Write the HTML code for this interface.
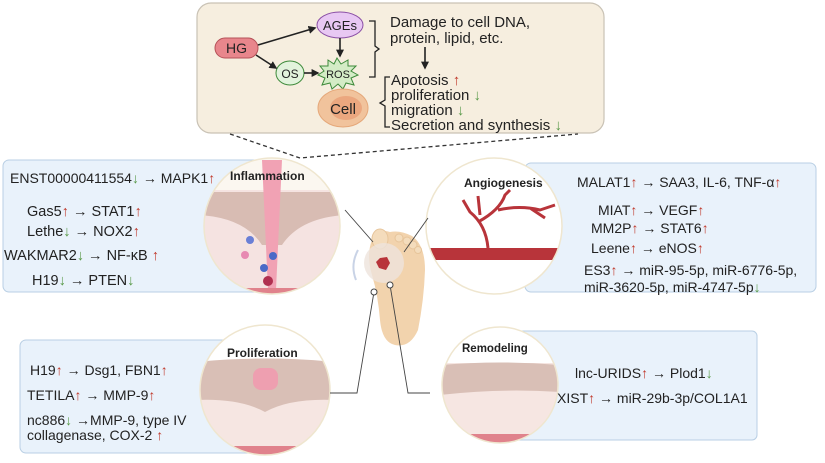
<!DOCTYPE html>
<html><head><meta charset="utf-8"><style>
html,body{margin:0;padding:0;background:#fff;}
svg text{font-family:"Liberation Sans",sans-serif;}
</style></head><body>
<svg width="825" height="458" viewBox="0 0 825 458" xmlns="http://www.w3.org/2000/svg">
<defs>
<marker id="a" viewBox="0 0 10 10" refX="8" refY="5" markerWidth="5" markerHeight="5" orient="auto"><path d="M0,0L10,5L0,10z" fill="#222"/></marker>
<clipPath id="c1"><circle cx="272" cy="226" r="68"/></clipPath>
<clipPath id="c2"><circle cx="494" cy="226" r="68"/></clipPath>
<clipPath id="c3"><circle cx="265" cy="390" r="65"/></clipPath>
<clipPath id="c4"><circle cx="500" cy="385" r="58"/></clipPath>
</defs>
<!-- top box -->
<rect x="197" y="3" width="407" height="130" rx="14" fill="#f6eedf" stroke="#c9c2b5" stroke-width="1.2"/>
<rect x="215" y="38" width="43" height="20" rx="10" fill="#e8868c" stroke="#b55158"/>
<text x="236.5" y="53" font-size="14" text-anchor="middle" fill="#222">HG</text>
<ellipse cx="340" cy="25" rx="23" ry="13" fill="#e8c8f3" stroke="#8a4fa5"/>
<text x="340" y="30" font-size="13" text-anchor="middle" fill="#222">AGEs</text>
<ellipse cx="290" cy="73" rx="14" ry="12" fill="#e2f3dc" stroke="#3d8a3a"/>
<text x="290" y="78" font-size="12" text-anchor="middle" fill="#222">OS</text>
<polygon points="337,58 341,64 348,60 348,66 356,66 351,71 358,75 351,78 354,85 346,83 343,89 338,84 332,89 330,83 322,85 325,78 318,75 324,71 320,66 328,66 328,60 334,64" fill="#d4ecc6" stroke="#3d8a3a"/>
<text x="338" y="78" font-size="11" text-anchor="middle" fill="#222">ROS</text>
<line x1="258" y1="45" x2="315" y2="28" stroke="#222" stroke-width="1.6" marker-end="url(#a)"/>
<line x1="256" y1="55" x2="276" y2="68" stroke="#222" stroke-width="1.6" marker-end="url(#a)"/>
<line x1="304" y1="73" x2="318" y2="73" stroke="#222" stroke-width="1.6" marker-end="url(#a)"/>
<line x1="340" y1="38" x2="340" y2="56" stroke="#222" stroke-width="1.6" marker-end="url(#a)"/>
<ellipse cx="343" cy="108" rx="25" ry="19" fill="#f1c39c" stroke="#e5a87a"/>
<ellipse cx="346" cy="108" rx="16" ry="12" fill="#eba77f"/>
<text x="343" y="114" font-size="15" text-anchor="middle" fill="#222">Cell</text>
<path d="M369,21 L375,21 L375,46 L379,49 L375,52 L375,77 L369,77" fill="none" stroke="#222" stroke-width="1.3"/>
<text x="390" y="27" font-size="15" fill="#222">Damage to cell DNA,</text>
<text x="390" y="43" font-size="15" fill="#222">protein, lipid, etc.</text>
<line x1="425" y1="47" x2="425" y2="68" stroke="#222" stroke-width="1.6" marker-end="url(#a)"/>
<path d="M390,77 L385,77 L385,100 L380,103 L385,106 L385,127 L390,127" fill="none" stroke="#222" stroke-width="1.3"/>
<text x="391" y="85" font-size="15" fill="#222">Apotosis <tspan fill="#c0392b">↑</tspan></text>
<text x="391" y="100" font-size="15" fill="#222">proliferation <tspan fill="#5a9a4a">↓</tspan></text>
<text x="391" y="115" font-size="15" fill="#222">migration <tspan fill="#5a9a4a">↓</tspan></text>
<text x="391" y="130" font-size="15" fill="#222">Secretion and synthesis <tspan fill="#5a9a4a">↓</tspan></text>
<path d="M230,134 L300,158 L578,134" fill="none" stroke="#333" stroke-width="1.3" stroke-dasharray="4,3"/>

<!-- inflammation -->
<rect x="3" y="160" width="270" height="132" rx="6" fill="#e9f2fb" stroke="#b9cfe4"/>
<text x="10" y="183" font-size="14" fill="#222">ENST00000411554<tspan fill="#5a9a4a">↓</tspan> → MAPK1<tspan fill="#c0392b">↑</tspan></text>
<text x="27" y="216" font-size="14.5" fill="#222">Gas5<tspan fill="#c0392b">↑</tspan> → STAT1<tspan fill="#c0392b">↑</tspan></text>
<text x="27" y="236" font-size="14.5" fill="#222">Lethe<tspan fill="#5a9a4a">↓</tspan> → NOX2<tspan fill="#c0392b">↑</tspan></text>
<text x="4" y="260" font-size="14.5" fill="#222">WAKMAR2<tspan fill="#5a9a4a">↓</tspan> → NF-κB <tspan fill="#c0392b">↑</tspan></text>
<text x="32" y="285" font-size="14.5" fill="#222">H19<tspan fill="#5a9a4a">↓</tspan> → PTEN<tspan fill="#5a9a4a">↓</tspan></text>
<g clip-path="url(#c1)">
<rect x="200" y="155" width="150" height="145" fill="#f5e3e1"/>
<rect x="200" y="155" width="150" height="35" fill="#fbf7f0"/>
<path d="M200,192 Q272,192 345,192 L345,215 Q300,218 282,245 L262,245 Q245,218 200,215z" fill="#d8bcb3"/>
<path d="M262,160 L282,160 L276,290 L268,290z" fill="#f1a2b4"/>
<circle cx="250" cy="240" r="4" fill="#6a7fd6"/><circle cx="245" cy="255" r="4" fill="#e78ab2"/>
<circle cx="273" cy="256" r="4" fill="#4a6ac7"/><circle cx="264" cy="268" r="4" fill="#4a6ac7"/><circle cx="268" cy="281" r="5" fill="#b03050"/>
<rect x="240" y="288" width="60" height="8" fill="#e0828c"/>
</g>
<circle cx="272" cy="226" r="68" fill="none" stroke="#efe6cf" stroke-width="1.5"/>
<text x="230" y="180" font-size="12" font-weight="bold" fill="#222">Inflammation</text>

<!-- angiogenesis -->
<rect x="525" y="163" width="291" height="129" rx="6" fill="#e9f2fb" stroke="#b9cfe4"/>
<g clip-path="url(#c2)">
<rect x="420" y="155" width="150" height="145" fill="#fff"/>
<rect x="420" y="248" width="150" height="12" fill="#b8343a"/>
<path d="M488,248 Q486,225 470,212 L463,200 M478,222 Q500,210 505,195 L510,190 M498,210 Q520,205 540,210 L555,205 M530,208 L545,218 M480,215 L478,196" stroke="#b8343a" stroke-width="3" fill="none"/>
</g>
<circle cx="494" cy="226" r="68" fill="none" stroke="#efe6cf" stroke-width="1.5"/>
<text x="464" y="187" font-size="12" font-weight="bold" fill="#222">Angiogenesis</text>
<text x="577" y="187" font-size="14" fill="#222">MALAT1<tspan fill="#c0392b">↑</tspan> → SAA3, IL-6, TNF-α<tspan fill="#c0392b">↑</tspan></text>
<text x="598" y="215" font-size="14" fill="#222">MIAT<tspan fill="#c0392b">↑</tspan> → VEGF<tspan fill="#c0392b">↑</tspan></text>
<text x="591" y="233" font-size="14" fill="#222">MM2P<tspan fill="#c0392b">↑</tspan> → STAT6<tspan fill="#c0392b">↑</tspan></text>
<text x="591" y="253" font-size="14" fill="#222">Leene<tspan fill="#c0392b">↑</tspan> → eNOS<tspan fill="#c0392b">↑</tspan></text>
<text x="584" y="275" font-size="14" fill="#222">ES3<tspan fill="#c0392b">↑</tspan> → miR-95-5p, miR-6776-5p,</text>
<text x="584" y="292" font-size="14" fill="#222">miR-3620-5p, miR-4747-5p<tspan fill="#5a9a4a">↓</tspan></text>

<!-- proliferation -->
<rect x="20" y="340" width="250" height="113" rx="6" fill="#e9f2fb" stroke="#b9cfe4"/>
<g clip-path="url(#c3)">
<rect x="195" y="320" width="140" height="140" fill="#f6e6e2"/>
<rect x="195" y="320" width="140" height="42" fill="#fff"/>
<path d="M195,362 Q265,355 335,362 L335,400 Q290,398 265,412 Q240,398 195,400z" fill="#d9bfb6"/>
<rect x="253" y="368" width="25" height="22" rx="8" fill="#ee9fb0"/>
<rect x="230" y="446" width="70" height="10" fill="#e0828c"/>
</g>
<circle cx="265" cy="390" r="65" fill="none" stroke="#efe6cf" stroke-width="1.5"/>
<text x="227" y="357" font-size="12" font-weight="bold" fill="#222">Proliferation</text>
<text x="30" y="375" font-size="14" fill="#222">H19<tspan fill="#c0392b">↑</tspan> → Dsg1, FBN1<tspan fill="#c0392b">↑</tspan></text>
<text x="27" y="400" font-size="14" fill="#222">TETILA<tspan fill="#c0392b">↑</tspan> → MMP-9<tspan fill="#c0392b">↑</tspan></text>
<text x="27" y="425" font-size="14" fill="#222">nc886<tspan fill="#5a9a4a">↓</tspan> →MMP-9, type IV</text>
<text x="27" y="440" font-size="14" fill="#222">collagenase,  COX-2 <tspan fill="#c0392b">↑</tspan></text>

<!-- remodeling -->
<rect x="500" y="331" width="257" height="109" rx="5" fill="#e9f2fb" stroke="#b9cfe4"/>
<g clip-path="url(#c4)">
<rect x="440" y="325" width="120" height="120" fill="#f6e6e2"/>
<rect x="440" y="325" width="120" height="38" fill="#fff"/>
<path d="M440,365 Q500,360 560,365 L560,392 Q500,388 440,395z" fill="#d9bfb6"/>
<rect x="470" y="434" width="60" height="10" fill="#e0828c"/>
</g>
<circle cx="500" cy="385" r="58" fill="none" stroke="#efe6cf" stroke-width="1.5"/>
<text x="462" y="352" font-size="11.5" font-weight="bold" fill="#222">Remodeling</text>
<text x="575" y="378" font-size="14" fill="#222">lnc-URIDS<tspan fill="#c0392b">↑</tspan> → Plod1<tspan fill="#5a9a4a">↓</tspan></text>
<text x="557" y="403" font-size="14" fill="#222">XIST<tspan fill="#c0392b">↑</tspan> → miR-29b-3p/COL1A1</text>

<!-- foot -->
<path d="M372,240 Q378,228 390,232 Q400,230 412,236 Q425,245 425,270 Q424,300 418,330 Q410,348 395,345 Q382,342 380,320 Q378,295 372,275 Q366,255 372,240z" fill="#f2d3ad"/>
<ellipse cx="380" cy="239" rx="8" ry="10" fill="#f4dcbc" stroke="#e7c59b"/>
<circle cx="399" cy="238" r="4" fill="#f4dcbc" stroke="#e7c59b"/>
<circle cx="407" cy="241" r="4" fill="#f4dcbc" stroke="#e7c59b"/>
<circle cx="413" cy="245" r="4" fill="#f4dcbc" stroke="#e7c59b"/>
<circle cx="418" cy="250" r="3.5" fill="#f4dcbc" stroke="#e7c59b"/>
<circle cx="384" cy="263" r="20" fill="#eee4dc" opacity="0.8"/>
<polygon points="380,258 387,257 390,263 386,270 379,268 376,262" fill="#b8343a"/>
<path d="M358,250 Q350,265 356,280" fill="none" stroke="#c9d3e6" stroke-width="2"/>
<line x1="373" y1="242" x2="345" y2="210" stroke="#444" stroke-width="0.9"/>
<line x1="404" y1="252" x2="428" y2="218" stroke="#444" stroke-width="0.9"/>
<polyline points="374,292 357,393 330,393" fill="none" stroke="#444" stroke-width="0.9"/>
<polyline points="390,285 408,393 430,393" fill="none" stroke="#444" stroke-width="0.9"/>
<circle cx="374" cy="292" r="3" fill="#fff" stroke="#444"/>
<circle cx="390" cy="285" r="3" fill="#fff" stroke="#444"/>
</svg>
</body></html>
